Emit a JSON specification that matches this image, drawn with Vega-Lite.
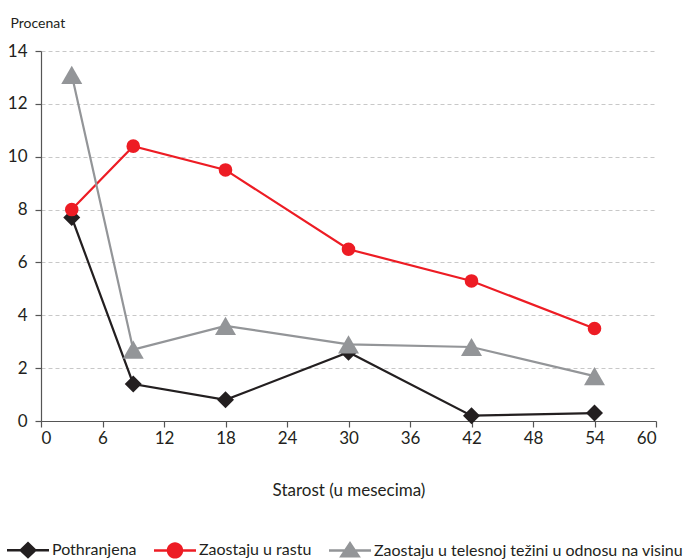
{
  "$schema": "https://vega.github.io/schema/vega-lite/v6.json",
  "width": 615,
  "height": 370,
  "autosize": {"type": "none"},
  "padding": {"left": 41, "top": 51, "right": 32, "bottom": 138},
  "background": "white",
  "config": {
    "view": {"stroke": null},
    "font": "Lato",
    "axis": {
      "labelFont": "Lato",
      "titleFont": "Lato",
      "labelColor": "#231f20",
      "titleColor": "#231f20",
      "domainColor": "#555555",
      "tickColor": "#555555",
      "domainWidth": 1.2,
      "tickWidth": 1.2,
      "tickSize": 6,
      "labelFontSize": 17,
      "titleFontWeight": "normal"
    },
    "legend": {
      "labelFont": "Lato",
      "labelColor": "#231f20"
    }
  },
  "data": {
    "values": [
      {"age": 3, "series": "Pothranjena", "value": 7.7},
      {"age": 9, "series": "Pothranjena", "value": 1.4},
      {"age": 18, "series": "Pothranjena", "value": 0.8},
      {"age": 30, "series": "Pothranjena", "value": 2.6},
      {"age": 42, "series": "Pothranjena", "value": 0.2},
      {"age": 54, "series": "Pothranjena", "value": 0.3},
      {"age": 3, "series": "Zaostaju u rastu", "value": 8.0},
      {"age": 9, "series": "Zaostaju u rastu", "value": 10.4},
      {"age": 18, "series": "Zaostaju u rastu", "value": 9.5},
      {"age": 30, "series": "Zaostaju u rastu", "value": 6.5},
      {"age": 42, "series": "Zaostaju u rastu", "value": 5.3},
      {"age": 54, "series": "Zaostaju u rastu", "value": 3.5},
      {"age": 3, "series": "Zaostaju u telesnoj težini u odnosu na visinu", "value": 13.1},
      {"age": 9, "series": "Zaostaju u telesnoj težini u odnosu na visinu", "value": 2.7},
      {"age": 18, "series": "Zaostaju u telesnoj težini u odnosu na visinu", "value": 3.6},
      {"age": 30, "series": "Zaostaju u telesnoj težini u odnosu na visinu", "value": 2.9},
      {"age": 42, "series": "Zaostaju u telesnoj težini u odnosu na visinu", "value": 2.8},
      {"age": 54, "series": "Zaostaju u telesnoj težini u odnosu na visinu", "value": 1.7}
    ]
  },
  "encoding": {
    "x": {
      "field": "age",
      "type": "quantitative",
      "scale": {"domain": [0, 60], "nice": false, "zero": false},
      "axis": {
        "values": [0, 6, 12, 18, 24, 30, 36, 42, 48, 54, 60],
        "grid": false,
        "title": "Starost (u mesecima)",
        "titleFontSize": 17,
        "titleY": 69,
        "titleBaseline": "middle",
        "labelPadding": 3
      }
    },
    "y": {
      "field": "value",
      "type": "quantitative",
      "scale": {"domain": [0, 14], "nice": false},
      "axis": {
        "values": [0, 2, 4, 6, 8, 10, 12, 14],
        "grid": true,
        "gridDash": [4, 3],
        "gridColor": "#c8c8c8",
        "gridWidth": 1,
        "labelPadding": 8,
        "title": "Procenat",
        "titleFontSize": 14,
        "titleAngle": 0,
        "titleAlign": "left",
        "titleBaseline": "alphabetic",
        "titleX": -31,
        "titleY": -24
      }
    }
  },
  "layer": [
    {
      "transform": [{"filter": "datum.series === 'Pothranjena'"}],
      "mark": {"type": "line", "strokeWidth": 2.2, "color": "#231f20"},
      "encoding": {}
    },
    {
      "transform": [{"filter": "datum.series === 'Zaostaju u rastu'"}],
      "mark": {"type": "line", "strokeWidth": 2.2, "color": "#ed1c24"},
      "encoding": {}
    },
    {
      "transform": [{"filter": "datum.series === 'Zaostaju u telesnoj težini u odnosu na visinu'"}],
      "mark": {"type": "line", "strokeWidth": 2.2, "color": "#939598"},
      "encoding": {}
    },
    {
      "transform": [{"filter": "datum.series === 'Pothranjena'"}],
      "mark": {"type": "point", "shape": "diamond", "filled": true, "opacity": 1, "size": 290, "color": "#231f20"}
    },
    {
      "transform": [{"filter": "datum.series === 'Zaostaju u rastu'"}],
      "mark": {"type": "point", "shape": "circle", "filled": true, "opacity": 1, "size": 185, "color": "#ed1c24"}
    },
    {
      "transform": [{"filter": "datum.series === 'Zaostaju u telesnoj težini u odnosu na visinu'"}],
      "mark": {"type": "point", "shape": "triangle-up", "filled": true, "opacity": 1, "size": 441, "color": "#939598"}
    },
    {
      "transform": [{"filter": "datum.age > 1000"}],
      "mark": {"type": "point", "filled": true, "opacity": 1},
      "encoding": {
        "color": {
          "field": "series",
          "type": "nominal",
          "scale": {
            "domain": ["Pothranjena", "Zaostaju u rastu", "Zaostaju u telesnoj težini u odnosu na visinu"],
            "range": ["#231f20", "#ed1c24", "#939598"]
          },
          "legend": {
            "title": null,
            "orient": "none",
            "direction": "horizontal",
            "legendX": -34,
            "legendY": 478,
            "symbolSize": 1764,
            "symbolStrokeWidth": 0,
            "symbolOpacity": 1,
            "labelFontSize": 16,
            "labelOffset": 3,
            "columnPadding": 17,
            "labelLimit": 500
          }
        },
        "shape": {
          "field": "series",
          "type": "nominal",
          "scale": {
            "domain": ["Pothranjena", "Zaostaju u rastu", "Zaostaju u telesnoj težini u odnosu na visinu"],
            "range": [
              "M-1,-0.06H1V0.06H-1Z M0,-0.41L0.43,0L0,0.41L-0.43,0Z",
              "M-1,-0.06H1V0.06H-1Z M-0.39,0A0.39,0.39,0,1,1,0.39,0A0.39,0.39,0,1,1,-0.39,0Z",
              "M-1,-0.06H1V0.06H-1Z M0,-0.45L0.52,0.33L-0.52,0.33Z"
            ]
          },
          "legend": {
            "title": null,
            "orient": "none",
            "direction": "horizontal",
            "legendX": -34,
            "legendY": 478,
            "symbolSize": 1764,
            "symbolStrokeWidth": 0,
            "symbolOpacity": 1,
            "labelFontSize": 16,
            "labelOffset": 3,
            "columnPadding": 17,
            "labelLimit": 500
          }
        }
      }
    }
  ]
}
